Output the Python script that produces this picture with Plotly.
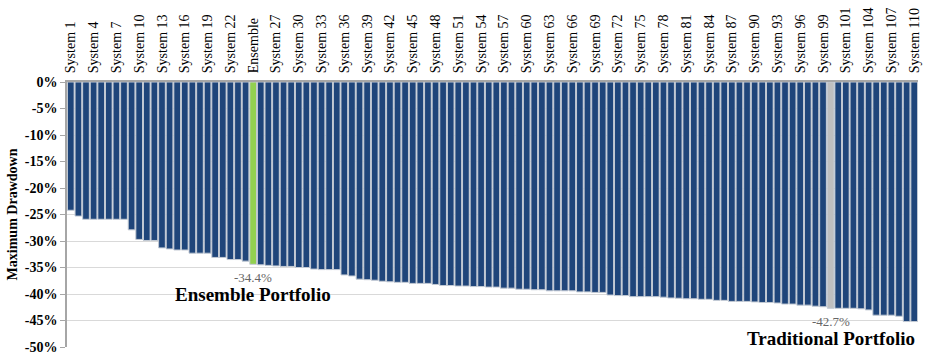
import plotly.graph_objects as go

# ---- data -------------------------------------------------------------
system_numbers = list(range(1, 111))
ensemble_label = "Ensemble"
traditional_label = "Traditional"
ensemble_value = -34.4
traditional_value = -42.7

# max drawdown (%) for the bars, left to right (Ensemble at slot 24, Traditional at slot 100)
drawdown = [
    -24.2, -25.3, -25.9, -25.9, -25.9, -25.9, -25.9, -25.9, -27.9, -29.7,
    -29.9, -29.9, -31.3, -31.5, -31.7, -31.7, -32.3, -32.3, -32.3, -33.1,
    -33.1, -33.5, -33.5, -33.8, ensemble_value, -34.5, -34.6, -34.7, -34.8, -34.8,
    -35.0, -35.0, -35.3, -35.4, -35.4, -35.4, -36.4, -36.6, -37.2, -37.3,
    -37.4, -37.6, -37.7, -37.8, -37.8, -38.0, -38.0, -38.0, -38.2, -38.4,
    -38.4, -38.5, -38.5, -38.6, -38.6, -38.7, -38.7, -38.9, -38.9, -39.1,
    -39.1, -39.2, -39.2, -39.4, -39.4, -39.4, -39.4, -39.6, -39.6, -39.7,
    -39.7, -40.2, -40.3, -40.3, -40.5, -40.5, -40.5, -40.5, -40.6, -40.75,
    -40.8, -40.9, -40.9, -41.0, -41.0, -41.2, -41.2, -41.4, -41.4, -41.4,
    -41.5, -41.6, -41.6, -41.7, -41.9, -41.9, -42.1, -42.1, -42.3, -42.4,
    traditional_value, -42.7, -42.7, -42.7, -42.8, -43.0, -44.0, -44.0, -44.0, -44.2,
    -45.2, -45.2,
]

y_tick_values = [0, -5, -10, -15, -20, -25, -30, -35, -40, -45, -50]
y_tick_labels = ["0%", "-5%", "-10%", "-15%", "-20%", "-25%", "-30%",
                 "-35%", "-40%", "-45%", "-50%"]

# ---- categories --------------------------------------------------------
system_names = [f"System {n}" for n in system_numbers]
categories = system_names[:24] + [ensemble_label] + system_names[24:99] + \
    [traditional_label] + system_names[99:]

NAVY = "#1f457a"
GREEN = "#92d050"
GREY = "#bfbfbf"
colors = []
for c in categories:
    if c == ensemble_label:
        colors.append(GREEN)
    elif c == traditional_label:
        colors.append(GREY)
    else:
        colors.append(NAVY)

SERIF = "Liberation Serif"

fig = go.Figure()
fig.add_trace(go.Bar(
    x=categories, y=drawdown,
    marker=dict(color=colors, line=dict(color="#c3cad4", width=1)),
    hoverinfo="x+y",
))

ann_font_small = dict(family=SERIF, size=13, color="#666666")
ann_font_big = dict(family=SERIF, size=19, color="#000000", weight="bold")
for label, val, name in [(ensemble_label, ensemble_value, "Ensemble Portfolio"),
                         (traditional_label, traditional_value, "Traditional Portfolio")]:
    fig.add_annotation(x=label, y=val, text=f"{val:.1f}%", showarrow=False,
                       yanchor="top", yshift=-4, font=ann_font_small)
    fig.add_annotation(x=label, y=val, text=name, showarrow=False,
                       yanchor="top", yshift=-18, font=ann_font_big)

fig.update_layout(
    width=931, height=364,
    margin=dict(l=67, r=13, t=82, b=17),
    paper_bgcolor="white", plot_bgcolor="white",
    bargap=0.12,
    showlegend=False,
    font=dict(family=SERIF, color="#000000"),
)
fig.update_xaxes(
    side="top", type="category", automargin=False,
    tickmode="array", tickvals=categories[::3], ticktext=categories[::3],
    tickangle=-90, tickfont=dict(family=SERIF, size=14, color="#000000"),
    ticklabelstandoff=4,
    showline=True, linecolor="#a6a6a6", linewidth=2,
    showgrid=False, ticks="", range=[-0.5, len(categories) - 0.5],
)
fig.update_yaxes(
    range=[-50, 0], automargin=False,
    tickmode="array", tickvals=y_tick_values, ticktext=y_tick_labels,
    tickfont=dict(family=SERIF, size=14, color="#000000", weight="bold"),
    showgrid=True, gridcolor="#d9d9d9", gridwidth=1,
    showline=True, linecolor="#a6a6a6", linewidth=1.5,
    ticks="outside", ticklen=5, tickcolor="#a6a6a6",
    zeroline=False,
    title=dict(text="Maximum Drawdown", standoff=4,
               font=dict(family=SERIF, size=14, color="#000000", weight="bold")),
)

fig.write_html("out.html", config={"displayModeBar": False},
               post_script="document.body.style.margin='0';")
